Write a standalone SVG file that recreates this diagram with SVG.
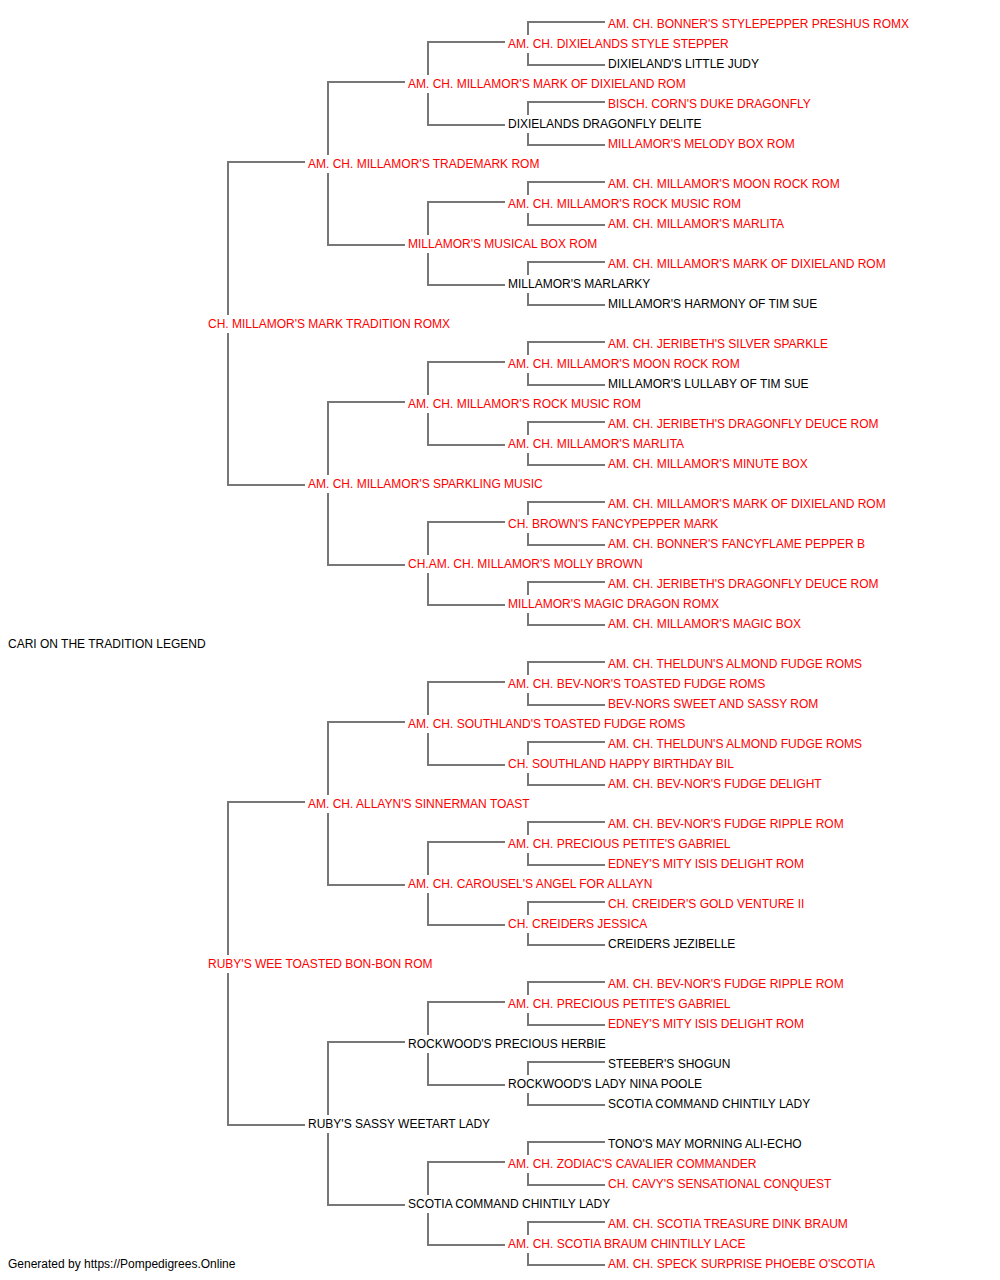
<svg xmlns="http://www.w3.org/2000/svg" width="1000" height="1280" viewBox="0 0 1000 1280">
<style>
text{font-family:"Liberation Sans",Arial,sans-serif;font-size:12px}
.r{fill:#ff0000}
.b{fill:#000000}
.c path{fill:none;stroke:#777777;stroke-width:2}
</style>
<rect width="1000" height="1280" fill="#ffffff"/>
<g class="c" id="connectors">
<path d="M305 162H228V315M228 333V485H305"/>
<path d="M305 802H228V955M228 973V1125H305"/>
<path d="M405 82H328V155M328 173V245H405"/>
<path d="M405 402H328V475M328 493V565H405"/>
<path d="M405 722H328V795M328 813V885H405"/>
<path d="M405 1042H328V1115M328 1133V1205H405"/>
<path d="M505 42H428V75M428 93V125H505"/>
<path d="M505 202H428V235M428 253V285H505"/>
<path d="M505 362H428V395M428 413V445H505"/>
<path d="M505 522H428V555M428 573V605H505"/>
<path d="M505 682H428V715M428 733V765H505"/>
<path d="M505 842H428V875M428 893V925H505"/>
<path d="M505 1002H428V1035M428 1053V1085H505"/>
<path d="M505 1162H428V1195M428 1213V1245H505"/>
<path d="M605 22H528V35M528 53V65H605"/>
<path d="M605 102H528V115M528 133V145H605"/>
<path d="M605 182H528V195M528 213V225H605"/>
<path d="M605 262H528V275M528 293V305H605"/>
<path d="M605 342H528V355M528 373V385H605"/>
<path d="M605 422H528V435M528 453V465H605"/>
<path d="M605 502H528V515M528 533V545H605"/>
<path d="M605 582H528V595M528 613V625H605"/>
<path d="M605 662H528V675M528 693V705H605"/>
<path d="M605 742H528V755M528 773V785H605"/>
<path d="M605 822H528V835M528 853V865H605"/>
<path d="M605 902H528V915M528 933V945H605"/>
<path d="M605 982H528V995M528 1013V1025H605"/>
<path d="M605 1062H528V1075M528 1093V1105H605"/>
<path d="M605 1142H528V1155M528 1173V1185H605"/>
<path d="M605 1222H528V1235M528 1253V1265H605"/>
</g>
<g id="n0"><text class="r" x="608" y="28">AM. CH. BONNER'S STYLEPEPPER PRESHUS ROMX</text></g>
<g id="n1"><text class="r" x="508" y="48">AM. CH. DIXIELANDS STYLE STEPPER</text></g>
<g id="n2"><text class="b" x="608" y="68">DIXIELAND'S LITTLE JUDY</text></g>
<g id="n3"><text class="r" x="408" y="88">AM. CH. MILLAMOR'S MARK OF DIXIELAND ROM</text></g>
<g id="n4"><text class="r" x="608" y="108">BISCH. CORN'S DUKE DRAGONFLY</text></g>
<g id="n5"><text class="b" x="508" y="128">DIXIELANDS DRAGONFLY DELITE</text></g>
<g id="n6"><text class="r" x="608" y="148">MILLAMOR'S MELODY BOX ROM</text></g>
<g id="n7"><text class="r" x="308" y="168">AM. CH. MILLAMOR'S TRADEMARK ROM</text></g>
<g id="n8"><text class="r" x="608" y="188">AM. CH. MILLAMOR'S MOON ROCK ROM</text></g>
<g id="n9"><text class="r" x="508" y="208">AM. CH. MILLAMOR'S ROCK MUSIC ROM</text></g>
<g id="n10"><text class="r" x="608" y="228">AM. CH. MILLAMOR'S MARLITA</text></g>
<g id="n11"><text class="r" x="408" y="248">MILLAMOR'S MUSICAL BOX ROM</text></g>
<g id="n12"><text class="r" x="608" y="268">AM. CH. MILLAMOR'S MARK OF DIXIELAND ROM</text></g>
<g id="n13"><text class="b" x="508" y="288">MILLAMOR'S MARLARKY</text></g>
<g id="n14"><text class="b" x="608" y="308">MILLAMOR'S HARMONY OF TIM SUE</text></g>
<g id="n15"><text class="r" x="208" y="328">CH. MILLAMOR'S MARK TRADITION ROMX</text></g>
<g id="n16"><text class="r" x="608" y="348">AM. CH. JERIBETH'S SILVER SPARKLE</text></g>
<g id="n17"><text class="r" x="508" y="368">AM. CH. MILLAMOR'S MOON ROCK ROM</text></g>
<g id="n18"><text class="b" x="608" y="388">MILLAMOR'S LULLABY OF TIM SUE</text></g>
<g id="n19"><text class="r" x="408" y="408">AM. CH. MILLAMOR'S ROCK MUSIC ROM</text></g>
<g id="n20"><text class="r" x="608" y="428">AM. CH. JERIBETH'S DRAGONFLY DEUCE ROM</text></g>
<g id="n21"><text class="r" x="508" y="448">AM. CH. MILLAMOR'S MARLITA</text></g>
<g id="n22"><text class="r" x="608" y="468">AM. CH. MILLAMOR'S MINUTE BOX</text></g>
<g id="n23"><text class="r" x="308" y="488">AM. CH. MILLAMOR'S SPARKLING MUSIC</text></g>
<g id="n24"><text class="r" x="608" y="508">AM. CH. MILLAMOR'S MARK OF DIXIELAND ROM</text></g>
<g id="n25"><text class="r" x="508" y="528">CH. BROWN'S FANCYPEPPER MARK</text></g>
<g id="n26"><text class="r" x="608" y="548">AM. CH. BONNER'S FANCYFLAME PEPPER B</text></g>
<g id="n27"><text class="r" x="408" y="568">CH.AM. CH. MILLAMOR'S MOLLY BROWN</text></g>
<g id="n28"><text class="r" x="608" y="588">AM. CH. JERIBETH'S DRAGONFLY DEUCE ROM</text></g>
<g id="n29"><text class="r" x="508" y="608">MILLAMOR'S MAGIC DRAGON ROMX</text></g>
<g id="n30"><text class="r" x="608" y="628">AM. CH. MILLAMOR'S MAGIC BOX</text></g>
<g id="n31"><text class="b" x="8" y="648">CARI ON THE TRADITION LEGEND</text></g>
<g id="n32"><text class="r" x="608" y="668">AM. CH. THELDUN'S ALMOND FUDGE ROMS</text></g>
<g id="n33"><text class="r" x="508" y="688">AM. CH. BEV-NOR'S TOASTED FUDGE ROMS</text></g>
<g id="n34"><text class="r" x="608" y="708">BEV-NORS SWEET AND SASSY ROM</text></g>
<g id="n35"><text class="r" x="408" y="728">AM. CH. SOUTHLAND'S TOASTED FUDGE ROMS</text></g>
<g id="n36"><text class="r" x="608" y="748">AM. CH. THELDUN'S ALMOND FUDGE ROMS</text></g>
<g id="n37"><text class="r" x="508" y="768">CH. SOUTHLAND HAPPY BIRTHDAY BIL</text></g>
<g id="n38"><text class="r" x="608" y="788">AM. CH. BEV-NOR'S FUDGE DELIGHT</text></g>
<g id="n39"><text class="r" x="308" y="808">AM. CH. ALLAYN'S SINNERMAN TOAST</text></g>
<g id="n40"><text class="r" x="608" y="828">AM. CH. BEV-NOR'S FUDGE RIPPLE ROM</text></g>
<g id="n41"><text class="r" x="508" y="848">AM. CH. PRECIOUS PETITE'S GABRIEL</text></g>
<g id="n42"><text class="r" x="608" y="868">EDNEY'S MITY ISIS DELIGHT ROM</text></g>
<g id="n43"><text class="r" x="408" y="888">AM. CH. CAROUSEL'S ANGEL FOR ALLAYN</text></g>
<g id="n44"><text class="r" x="608" y="908">CH. CREIDER'S GOLD VENTURE II</text></g>
<g id="n45"><text class="r" x="508" y="928">CH. CREIDERS JESSICA</text></g>
<g id="n46"><text class="b" x="608" y="948">CREIDERS JEZIBELLE</text></g>
<g id="n47"><text class="r" x="208" y="968">RUBY'S WEE TOASTED BON-BON ROM</text></g>
<g id="n48"><text class="r" x="608" y="988">AM. CH. BEV-NOR'S FUDGE RIPPLE ROM</text></g>
<g id="n49"><text class="r" x="508" y="1008">AM. CH. PRECIOUS PETITE'S GABRIEL</text></g>
<g id="n50"><text class="r" x="608" y="1028">EDNEY'S MITY ISIS DELIGHT ROM</text></g>
<g id="n51"><text class="b" x="408" y="1048">ROCKWOOD'S PRECIOUS HERBIE</text></g>
<g id="n52"><text class="b" x="608" y="1068">STEEBER'S SHOGUN</text></g>
<g id="n53"><text class="b" x="508" y="1088">ROCKWOOD'S LADY NINA POOLE</text></g>
<g id="n54"><text class="b" x="608" y="1108">SCOTIA COMMAND CHINTILY LADY</text></g>
<g id="n55"><text class="b" x="308" y="1128">RUBY'S SASSY WEETART LADY</text></g>
<g id="n56"><text class="b" x="608" y="1148">TONO'S MAY MORNING ALI-ECHO</text></g>
<g id="n57"><text class="r" x="508" y="1168">AM. CH. ZODIAC'S CAVALIER COMMANDER</text></g>
<g id="n58"><text class="r" x="608" y="1188">CH. CAVY'S SENSATIONAL CONQUEST</text></g>
<g id="n59"><text class="b" x="408" y="1208">SCOTIA COMMAND CHINTILY LADY</text></g>
<g id="n60"><text class="r" x="608" y="1228">AM. CH. SCOTIA TREASURE DINK BRAUM</text></g>
<g id="n61"><text class="r" x="508" y="1248">AM. CH. SCOTIA BRAUM CHINTILLY LACE</text></g>
<g id="n62"><text class="r" x="608" y="1268">AM. CH. SPECK SURPRISE PHOEBE O'SCOTIA</text></g>
<g id="footer"><text class="b" x="8" y="1268">Generated by https://Pompedigrees.Online</text></g>
</svg>
